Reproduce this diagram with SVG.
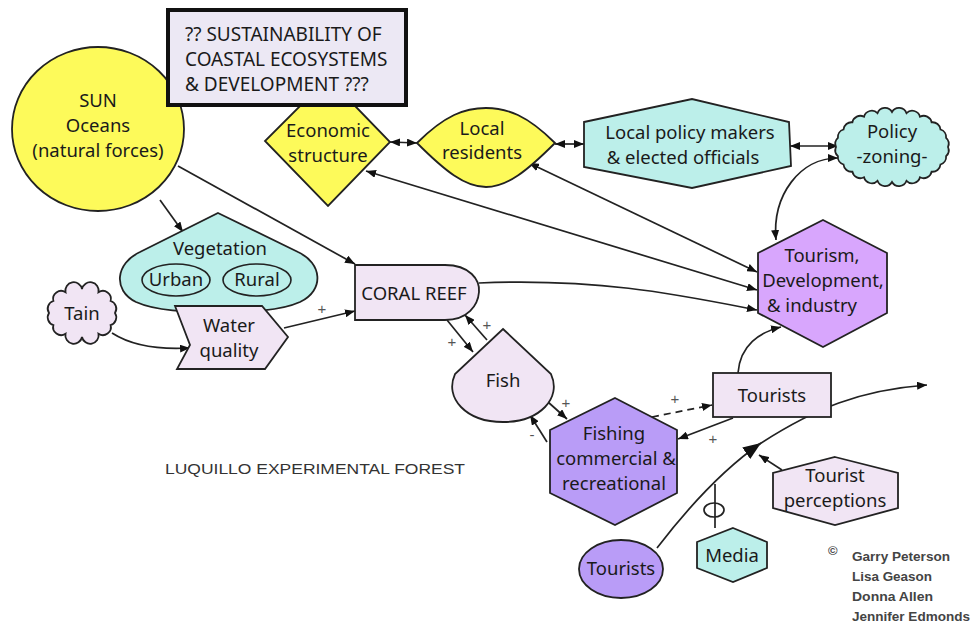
<svg xmlns="http://www.w3.org/2000/svg" width="971" height="625" viewBox="0 0 971 625">
  <style>
    .node { stroke: #222; stroke-width: 1.8; }
    .yellow { fill: #fdfa5a; }
    .cyan { fill: #bcefea; }
    .pale { fill: #f1e5f4; }
    .violet { fill: #d8a6fd; }
    .purple { fill: #b99cf7; }
    .lbl { font-family: "Noto Sans", "Open Sans", sans-serif; font-size: 18.5px; fill: #1a1a1a; text-anchor: middle; }
    .title { font-family: "Noto Sans", "Open Sans", sans-serif; font-size: 19px; fill: #1a1a1a; }
    .sign { font-family: "Liberation Sans", sans-serif; font-size: 15px; fill: #555; text-anchor: middle; }
    .conn { fill: none; stroke: #222; stroke-width: 1.7; }
    .credit { font-family: "Liberation Sans", sans-serif; font-size: 13px; font-weight: bold; fill: #444; }
  </style>
  <defs>
    <marker id="arr" viewBox="0 0 10 8" refX="10" refY="4" markerWidth="10" markerHeight="8" orient="auto-start-reverse" markerUnits="userSpaceOnUse">
      <path d="M0,0 L10,4 L0,8 Z" fill="#111"/>
    </marker>
    <marker id="bigarr" viewBox="0 0 18 14" refX="18" refY="7" markerWidth="18" markerHeight="14" orient="auto" markerUnits="userSpaceOnUse">
      <path d="M0,0 L18,7 L0,14 Z" fill="#111"/>
    </marker>
  </defs>
  <rect width="971" height="625" fill="#ffffff"/>

  <!-- connectors -->
  <g id="connectors">
    <path class="conn" d="M160,200 L183,232" marker-end="url(#arr)"/>
    <path class="conn" d="M178,166 L355,264" marker-end="url(#arr)"/>
    <path class="conn" d="M284,328 L355,311" marker-end="url(#arr)"/>
    <path class="conn" d="M112,333 Q140,351 190,348" marker-end="url(#arr)"/>
    <path class="conn" d="M390,142 L417,143" marker-start="url(#arr)" marker-end="url(#arr)"/>
    <path class="conn" d="M555,144 L584,144" marker-start="url(#arr)" marker-end="url(#arr)"/>
    <path class="conn" d="M790,146 L838,146" marker-start="url(#arr)" marker-end="url(#arr)"/>
    <path class="conn" d="M838,158 C800,158 772,195 776,240" marker-start="url(#arr)" marker-end="url(#arr)"/>
    <path class="conn" d="M366,171 L757,290" marker-start="url(#arr)" marker-end="url(#arr)"/>
    <path class="conn" d="M529,163 L757,272" marker-start="url(#arr)" marker-end="url(#arr)"/>
    <path class="conn" d="M479,283 C600,278 680,295 757,310" marker-end="url(#arr)"/>
    <path class="conn" d="M447,320 L473,352" marker-end="url(#arr)"/>
    <path class="conn" d="M487,340 L465,315" marker-end="url(#arr)"/>
    <path class="conn" d="M548,402 L567,419" marker-end="url(#arr)"/>
    <path class="conn" d="M547,442 L530,415" marker-end="url(#arr)"/>
    <path class="conn" d="M738,373 C740,345 760,332 781,327" marker-end="url(#arr)"/>
    <path class="conn" d="M652,417 L712,405" stroke-dasharray="7,5" marker-end="url(#arr)"/>
    <path class="conn" d="M733,418 L678,439" marker-end="url(#arr)"/>
    <path class="conn" d="M657,548 C690,505 725,468 761,443" marker-end="url(#bigarr)"/>
    <path class="conn" d="M758,445 C815,408 860,390 927,385" marker-end="url(#arr)"/>
    <path class="conn" d="M782,470 L759,455" marker-end="url(#arr)"/>
    <path class="conn" d="M715,528 L715,484"/>
    <ellipse class="conn" cx="714" cy="510" rx="10" ry="7"/>
    <text class="sign" x="322" y="314">+</text>
    <text class="sign" x="452" y="347">+</text>
    <text class="sign" x="487" y="330">+</text>
    <text class="sign" x="566" y="408">+</text>
    <text class="sign" x="532" y="440">-</text>
    <text class="sign" x="675" y="404">+</text>
    <text class="sign" x="713" y="444">+</text>
  </g>

  <!-- nodes -->
  <g id="sun">
    <ellipse class="node yellow" cx="98" cy="129" rx="86" ry="82"/>
    <text class="lbl" x="98" y="107">SUN</text>
    <text class="lbl" x="98" y="132">Oceans</text>
    <text class="lbl" x="98" y="157">(natural forces)</text>
  </g>

  <g id="economic-structure">
    <path class="node yellow" d="M328,78 L390,142 L328,206 L265,141 Z"/>
    <text class="lbl" x="328" y="137">Economic</text>
    <text class="lbl" x="328" y="162">structure</text>
  </g>

  <g id="title">
    <rect x="168" y="10" width="238" height="95" fill="#ece8f4" stroke="#111" stroke-width="4"/>
    <text class="title" x="185" y="41">?? SUSTAINABILITY OF</text>
    <text class="title" x="185" y="66">COASTAL ECOSYSTEMS</text>
    <text class="title" x="185" y="91">&amp; DEVELOPMENT ???</text>
  </g>

  <g id="local-residents">
    <path class="node yellow" d="M417,143 C445,115 465,108 486,108 C507,108 527,115 555,143 C527,171 507,187 486,187 C465,187 445,171 417,143 Z"/>
    <text class="lbl" x="482" y="135">Local</text>
    <text class="lbl" x="482" y="159">residents</text>
  </g>

  <g id="policy-makers">
    <path class="node cyan" d="M584,122 L692,99 L789,122 L791,166 L692,188 L584,167 Z"/>
    <text class="lbl" x="690" y="139">Local policy makers</text>
    <text class="lbl" x="683" y="164">&amp; elected officials</text>
  </g>

  <g id="policy-zoning">
    <path class="node cyan" d="M948,147 A8,8 0 0 1 946.1,156.1 A8,8 0 0 1 940.5,164.5 A8,8 0 0 1 931.6,171.7 A8,8 0 0 1 920,177.3 A8,8 0 0 1 906.5,180.8 A8,8 0 0 1 892,182 A8,8 0 0 1 877.5,180.8 A8,8 0 0 1 864,177.3 A8,8 0 0 1 852.4,171.7 A8,8 0 0 1 843.5,164.5 A8,8 0 0 1 837.9,156.1 A8,8 0 0 1 836,147 A8,8 0 0 1 837.9,137.9 A8,8 0 0 1 843.5,129.5 A8,8 0 0 1 852.4,122.3 A8,8 0 0 1 864,116.7 A8,8 0 0 1 877.5,113.2 A8,8 0 0 1 892,112 A8,8 0 0 1 906.5,113.2 A8,8 0 0 1 920,116.7 A8,8 0 0 1 931.6,122.3 A8,8 0 0 1 940.5,129.5 A8,8 0 0 1 946.1,137.9 A8,8 0 0 1 948,147 Z"/>
    <text class="lbl" x="892" y="138">Policy</text>
    <text class="lbl" x="892" y="163">-zoning-</text>
  </g>

  <g id="tourism">
    <path class="node violet" d="M823,220 L887,253 L887,313 L823,347 L758,313 L758,253 Z"/>
    <text class="lbl" x="822" y="262">Tourism,</text>
    <text class="lbl" x="823" y="287">Development,</text>
    <text class="lbl" x="812" y="312">&amp; industry</text>
  </g>

  <g id="vegetation">
    <path class="node cyan" d="M218,213 L298,252 C322,263 325,290 300,302 C280,311 250,312 218,312 C186,312 156,311 136,302 C112,290 116,263 140,252 Z"/>
    <text class="lbl" x="220" y="255">Vegetation</text>
    <ellipse cx="176" cy="280" rx="34" ry="16" fill="none" stroke="#222" stroke-width="1.6"/>
    <text class="lbl" x="176" y="286">Urban</text>
    <ellipse cx="257" cy="280" rx="34" ry="16" fill="none" stroke="#222" stroke-width="1.6"/>
    <text class="lbl" x="257" y="286">Rural</text>
  </g>

  <g id="water-quality">
    <path class="node pale" d="M175,306 L262,306 L288,337 L265,369 L177,369 L190,345 Z"/>
    <text class="lbl" x="229" y="332">Water</text>
    <text class="lbl" x="229" y="357">quality</text>
  </g>

  <g id="tain">
    <path class="node pale" d="M115,313 A8,8 0 0 1 110.6,325 A8,8 0 0 1 98.5,333.8 A8,8 0 0 1 82,337 A8,8 0 0 1 65.5,333.8 A8,8 0 0 1 53.4,325 A8,8 0 0 1 49,313 A8,8 0 0 1 53.4,301 A8,8 0 0 1 65.5,292.2 A8,8 0 0 1 82,289 A8,8 0 0 1 98.5,292.2 A8,8 0 0 1 110.6,301 A8,8 0 0 1 115,313 Z"/>
    <text class="lbl" x="82" y="320">Tain</text>
  </g>

  <g id="coral-reef">
    <path class="node pale" d="M355,265 L445,265 C470,265 480,280 479,292 C478,305 468,320 445,320 L355,320 Z"/>
    <text class="lbl" x="414" y="300">CORAL REEF</text>
  </g>

  <g id="fish">
    <path class="node pale" d="M503,329 L551,374 C562,398 540,422 503,422 C466,422 444,398 455,374 Z"/>
    <text class="lbl" x="503" y="387">Fish</text>
  </g>

  <g id="fishing">
    <path class="node purple" d="M615,398 L677,430 L677,493 L615,525 L550,493 L550,430 Z"/>
    <text class="lbl" x="614" y="440">Fishing</text>
    <text class="lbl" x="616" y="465">commercial &amp;</text>
    <text class="lbl" x="614" y="490">recreational</text>
  </g>

  <g id="tourists-box">
    <rect class="node pale" x="713" y="373" width="118" height="44" stroke-width="2.4"/>
    <text class="lbl" x="772" y="402">Tourists</text>
  </g>

  <g id="tourist-perceptions">
    <path class="node pale" d="M835,457 L898,473 L898,508 L835,525 L773,508 L773,473 Z"/>
    <text class="lbl" x="835" y="482">Tourist</text>
    <text class="lbl" x="835" y="507">perceptions</text>
  </g>

  <g id="media">
    <path class="node cyan" d="M733,528 L767,542 L767,568 L733,582 L697,568 L697,542 Z"/>
    <text class="lbl" x="732" y="562">Media</text>
  </g>

  <g id="tourists-origin">
    <ellipse class="node purple" cx="621" cy="569" rx="42" ry="29"/>
    <text class="lbl" x="621" y="575">Tourists</text>
  </g>

  <text x="165" y="474" font-family="Liberation Sans, sans-serif" font-size="15" fill="#333" textLength="300" lengthAdjust="spacingAndGlyphs">LUQUILLO EXPERIMENTAL FOREST</text>

  <g id="credits">
    <text class="credit" x="828" y="555">©</text>
    <text class="credit" x="852" y="561" textLength="98" lengthAdjust="spacingAndGlyphs">Garry Peterson</text>
    <text class="credit" x="852" y="581" textLength="80" lengthAdjust="spacingAndGlyphs">Lisa Geason</text>
    <text class="credit" x="852" y="601" textLength="81" lengthAdjust="spacingAndGlyphs">Donna Allen</text>
    <text class="credit" x="852" y="621" textLength="118" lengthAdjust="spacingAndGlyphs">Jennifer Edmonds</text>
  </g>
</svg>
